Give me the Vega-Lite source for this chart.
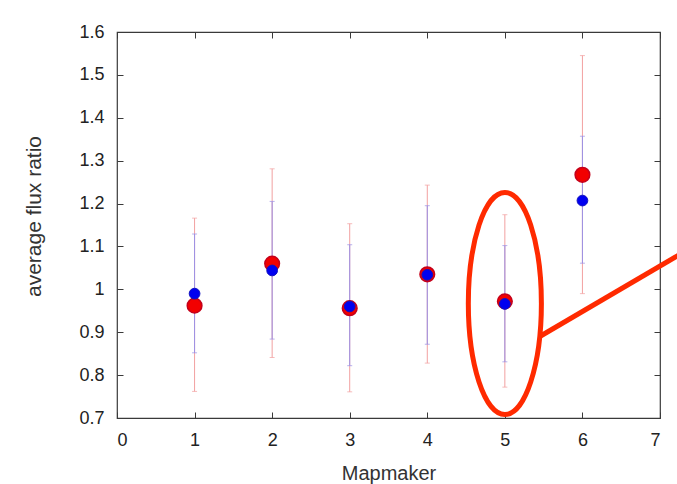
{
  "$schema": "https://vega.github.io/schema/vega-lite/v6.json",
  "width": 543,
  "height": 386,
  "autosize": {"type": "none"},
  "padding": {"left": 117, "top": 32, "right": 17, "bottom": 66},
  "background": "white",
  "config": {
    "font": "Liberation Sans",
    "view": {"stroke": "#3a3a3a", "strokeWidth": 1.2},
    "axis": {
      "grid": false,
      "domain": false,
      "tickSize": -6,
      "tickColor": "#3a3a3a",
      "tickWidth": 1,
      "labelFont": "Liberation Sans",
      "labelFontSize": 18,
      "labelColor": "#222222",
      "titleFont": "Liberation Sans",
      "titleFontSize": 20,
      "titleFontWeight": "normal",
      "titleColor": "#333333"
    }
  },
  "datasets": {
    "flux": [
      {"mapmaker": 1, "series": "red", "value": 0.962, "lo": 0.762, "hi": 1.166},
      {"mapmaker": 2, "series": "red", "value": 1.060, "lo": 0.841, "hi": 1.281},
      {"mapmaker": 3, "series": "red", "value": 0.956, "lo": 0.761, "hi": 1.153},
      {"mapmaker": 4, "series": "red", "value": 1.035, "lo": 0.828, "hi": 1.243},
      {"mapmaker": 5, "series": "red", "value": 0.972, "lo": 0.772, "hi": 1.174},
      {"mapmaker": 6, "series": "red", "value": 1.267, "lo": 0.990, "hi": 1.545},
      {"mapmaker": 1, "series": "blue", "value": 0.990, "lo": 0.852, "hi": 1.129},
      {"mapmaker": 2, "series": "blue", "value": 1.044, "lo": 0.884, "hi": 1.205},
      {"mapmaker": 3, "series": "blue", "value": 0.960, "lo": 0.822, "hi": 1.104},
      {"mapmaker": 4, "series": "blue", "value": 1.034, "lo": 0.872, "hi": 1.195},
      {"mapmaker": 5, "series": "blue", "value": 0.966, "lo": 0.831, "hi": 1.102},
      {"mapmaker": 6, "series": "blue", "value": 1.207, "lo": 1.061, "hi": 1.357}
    ],
    "ellipse": [{"x": 5, "y": 0.967}],
    "connector": [{"x": 5.45, "y": 0.89, "x2": 7.6, "y2": 1.118}]
  },
  "layer": [
    {
      "mark": {"type": "rule", "color": "#a8e6a8", "strokeWidth": 1.5},
      "encoding": {
        "y": {"datum": 1, "type": "quantitative", "scale": {"domain": [0.7, 1.6], "nice": false, "zero": false}, "axis": null}
      }
    },
    {
      "data": {"name": "flux"},
      "transform": [{"filter": "datum.series == 'red'"}],
      "mark": {"type": "errorbar", "color": "#f2a0a0", "thickness": 1, "ticks": {"size": 5, "thickness": 1, "color": "#f2a0a0"}},
      "encoding": {
        "x": {"field": "mapmaker", "type": "quantitative", "axis": null},
        "y": {"field": "lo", "type": "quantitative", "axis": null},
        "y2": {"field": "hi"}
      }
    },
    {
      "data": {"name": "flux"},
      "transform": [{"filter": "datum.series == 'blue'"}],
      "mark": {"type": "errorbar", "color": "#9a90e6", "thickness": 1, "ticks": {"size": 5, "thickness": 1, "color": "#9a90e6"}},
      "encoding": {
        "x": {"field": "mapmaker", "type": "quantitative", "axis": null},
        "y": {"field": "lo", "type": "quantitative", "axis": null},
        "y2": {"field": "hi"}
      }
    },
    {
      "data": {"name": "flux"},
      "transform": [{"filter": "datum.series == 'red'"}],
      "mark": {"type": "point", "shape": "circle", "filled": true, "size": 215, "fill": "#f20000", "stroke": "#c4001a", "strokeWidth": 1.5, "opacity": 1},
      "encoding": {
        "x": {
          "field": "mapmaker", "type": "quantitative",
          "scale": {"domain": [0, 7], "nice": false, "zero": false},
          "axis": {"orient": "bottom", "values": [0, 1, 2, 3, 4, 5, 6, 7], "format": "d", "title": "Mapmaker", "labelPadding": 19, "titlePadding": 14}
        },
        "y": {
          "field": "value", "type": "quantitative",
          "axis": {"orient": "left", "values": [0.7, 0.8, 0.9, 1, 1.1, 1.2, 1.3, 1.4, 1.5, 1.6], "format": "~g", "title": "average flux ratio", "titleFontSize": 21, "titleY": 184, "labelPadding": 19, "titlePadding": 34}
        }
      }
    },
    {
      "data": {"name": "flux"},
      "transform": [{"filter": "datum.series == 'blue'"}],
      "mark": {"type": "point", "shape": "circle", "filled": true, "size": 115, "fill": "#0000f0", "stroke": "#1010c0", "strokeWidth": 1, "opacity": 1},
      "encoding": {
        "x": {
          "field": "mapmaker", "type": "quantitative",
          "axis": {"orient": "top", "values": [0, 1, 2, 3, 4, 5, 6, 7], "labels": false, "title": null}
        },
        "y": {
          "field": "value", "type": "quantitative",
          "axis": {"orient": "right", "values": [0.7, 0.8, 0.9, 1, 1.1, 1.2, 1.3, 1.4, 1.5, 1.6], "labels": false, "title": null}
        }
      }
    },
    {
      "data": {"name": "ellipse"},
      "mark": {
        "type": "point",
        "shape": "M0,-1 C0.1818,-1 0.3291,-0.5523 0.3291,0 C0.3291,0.5523 0.1818,1 0,1 C-0.1818,1 -0.3291,0.5523 -0.3291,0 C-0.3291,-0.5523 -0.1818,-1 0,-1 Z",
        "filled": false,
        "size": 49284,
        "stroke": "#ff2a00",
        "strokeWidth": 5,
        "opacity": 1
      },
      "encoding": {
        "x": {"field": "x", "type": "quantitative", "axis": null},
        "y": {"field": "y", "type": "quantitative", "axis": null}
      }
    },
    {
      "data": {"name": "connector"},
      "mark": {"type": "rule", "color": "#ff2a00", "strokeWidth": 5, "strokeCap": "butt"},
      "encoding": {
        "x": {"field": "x", "type": "quantitative", "axis": null},
        "y": {"field": "y", "type": "quantitative", "axis": null},
        "x2": {"field": "x2"},
        "y2": {"field": "y2"}
      }
    }
  ],
  "resolve": {"axis": {"x": "independent", "y": "independent"}}
}
